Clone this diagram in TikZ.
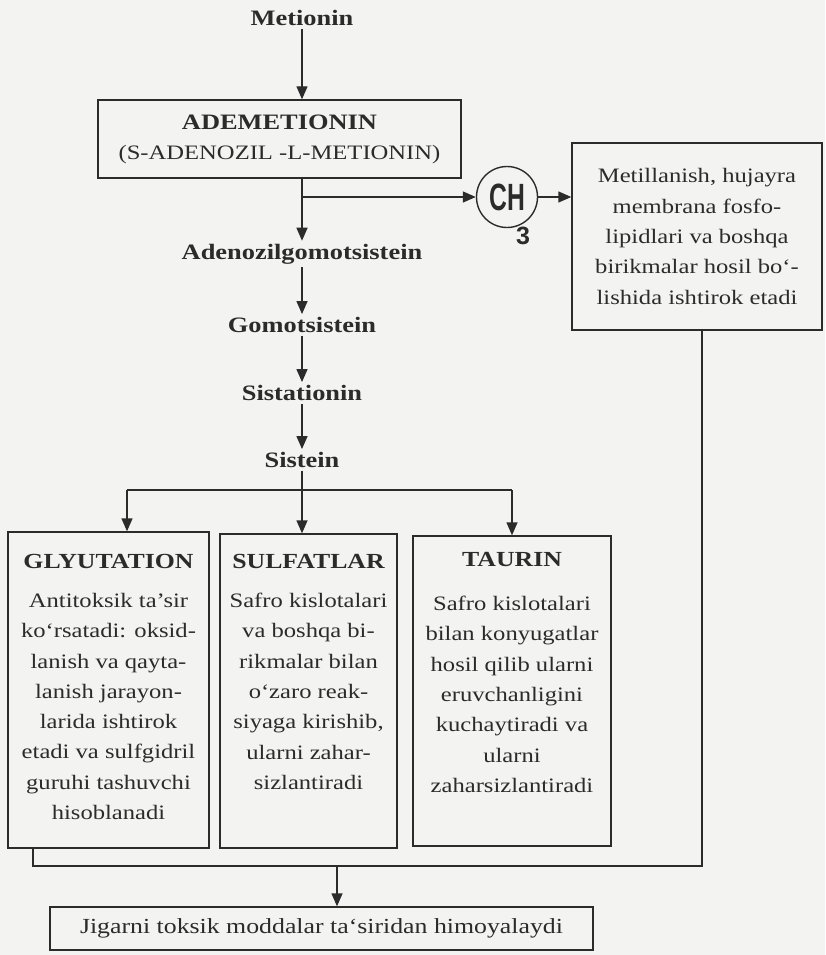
\documentclass[tikz,border=0pt]{standalone}
\usepackage{fontspec}
\setmainfont{Liberation Serif}[FakeStretch=1.2]
\newfontfamily\chfont{Liberation Sans}[FakeStretch=0.65]
\newfontfamily\subfont{Liberation Sans}
\usetikzlibrary{arrows.meta}
\definecolor{ink}{HTML}{2B2B2B}
\definecolor{paper}{HTML}{F3F3F1}
\tikzset{
  ln/.style={draw=ink, line width=1.4pt},
  arr/.style={ln, -{Triangle[width=11pt,length=13pt]}},
  box/.style={draw=ink, line width=1.4pt, rectangle, inner sep=0pt, text=ink},
  chainlbl/.style={font=\bfseries\fontsize{22}{26}\selectfont, text=ink, inner sep=3pt},
  ttl/.style={font=\bfseries\fontsize{21.5}{26}\selectfont, text=ink, inner sep=0pt},
  bodytxt/.style={font=\fontsize{20.5}{30.3}\selectfont, text=ink, align=center, inner sep=0pt},
}
\begin{document}
\begin{tikzpicture}[x=1pt,y=-1pt]
\useasboundingbox (0,0) rectangle (825,955);
\fill[paper] (0,0) rectangle (825,955);

% chain
\node[chainlbl] (met) at (302,18) {Metionin};
\node[box, minimum width=363pt, minimum height=78pt, align=center,
      font=\fontsize{20.5}{30}\selectfont] (adem) at (279.5,139)
  {{\bfseries\fontsize{22}{30}\selectfont ADEMETIONIN}\\(S-ADENOZIL -L-METIONIN)};
\node[chainlbl] (adeno) at (302,254) {Adenozilgomotsistein};
\node[chainlbl] (gomo) at (302,325) {Gomotsistein};
\node[chainlbl] (sista) at (302,393) {Sistationin};
\node[chainlbl] (siste) at (302,460) {Sistein};

% methyl group
\node[circle, draw=ink, line width=1.4pt, minimum size=61pt, inner sep=0pt,
      font=\chfont\bfseries\fontsize{38}{38}\selectfont, text=ink] (ch) at (507,197) {CH};
\node[font=\subfont\bfseries\fontsize{25}{25}\selectfont, text=ink, inner sep=0pt] (ch3) at (523,236) {3};
\node[box, minimum width=250pt, minimum height=187pt, align=center,
      font=\fontsize{20.5}{30.3}\selectfont] (meti) at (697,236.5)
  {Metillanish, hujayra\\membrana fosfo-\\lipidlari va boshqa\\birikmalar hosil bo‘-\\lishida ishtirok etadi};

% three boxes
\node[box, minimum width=201pt, minimum height=316pt] (glyt) at (108.5,690) {};
\node[box, minimum width=177pt, minimum height=314pt] (sulf) at (308.5,691) {};
\node[box, minimum width=198pt, minimum height=310pt] (taur) at (512,691) {};

\node[ttl] (glytt) at (108.5,561) {GLYUTATION};
\node[ttl] (sulft) at (308.5,561) {SULFATLAR};
\node[ttl] (taurt) at (512,559) {TAURIN};

\node[bodytxt, anchor=north] (glytb) at (108.5,593)
  {Antitoksik ta’sir\\ko‘rsatadi: oksid-\\lanish va qayta-\\lanish jarayon-\\larida ishtirok\\etadi va sulfgidril\\guruhi tashuvchi\\hisoblanadi};
\node[bodytxt, anchor=north] (sulfb) at (308.5,593)
  {Safro kislotalari\\va boshqa bi-\\rikmalar bilan\\o‘zaro reak-\\siyaga kirishib,\\ularni zahar-\\sizlantiradi};
\node[bodytxt, anchor=north] (taurb) at (512,596)
  {Safro kislotalari\\bilan konyugatlar\\hosil qilib ularni\\eruvchanligini\\kuchaytiradi va\\ularni\\zaharsizlantiradi};

\node[box, minimum width=543pt, minimum height=43pt,
      font=\fontsize{21.5}{26}\selectfont] (jig) at (321.5,928.5)
  {Jigarni toksik moddalar ta‘siridan himoyalaydi};

% connectors
\draw[arr] (met) -- (met |- adem.north);
\draw[arr] (met |- adem.south) -- (adeno);
\coordinate (br1) at (met |- ch);
\draw[arr] (br1) -- (ch);
\draw[arr] (ch) -- (ch -| meti.west);
\draw[arr] (adeno) -- (gomo);
\draw[arr] (gomo) -- (sista);
\draw[arr] (sista) -- (siste);

\coordinate (split) at (302,490);
\coordinate (sl) at (127,490);
\coordinate (sr) at (512,490);
\draw[ln] (siste) -- (split);
\draw[arr] (split) -- (split |- sulf.north);
\draw[ln] (sl) -- (sr);
\draw[arr] (sl) -- (sl |- glyt.north);
\draw[arr] (sr) -- (sr |- taur.north);

\coordinate (bl) at (33,866);
\coordinate (brr) at (702,866);
\coordinate (bm) at (337,866);
\draw[ln] (bl |- glyt.south) -- (bl) -- (brr) -- (brr |- meti.south);
\draw[arr] (bm) -- (bm |- jig.north);
\end{tikzpicture}
\end{document}
